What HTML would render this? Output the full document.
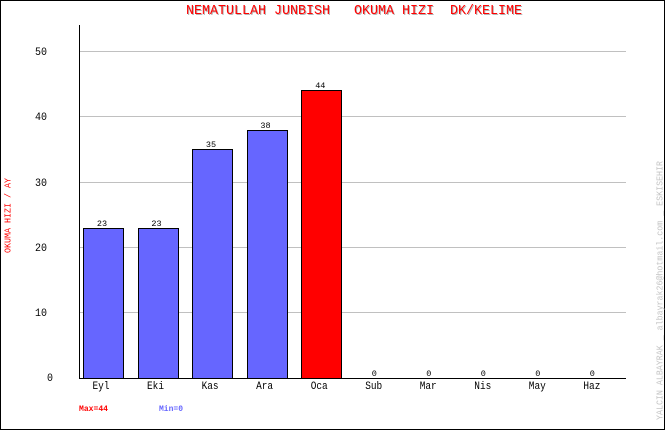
<!DOCTYPE html>
<html>
<head>
<meta charset="utf-8">
<style>
html,body{margin:0;padding:0;background:#fff;}
svg{display:block;}
text{font-family:"Liberation Mono","DejaVu Sans Mono",monospace;}
</style>
</head>
<body>
<svg width="665" height="430" viewBox="0 0 665 430" xmlns="http://www.w3.org/2000/svg">
  <rect x="0.5" y="0.5" width="664" height="429" fill="#fff" stroke="#000" stroke-width="1" shape-rendering="crispEdges"/>

  <!-- title -->
  <text x="187" y="15" font-size="14" fill="#b4b4b4" xml:space="preserve" textLength="336" lengthAdjust="spacingAndGlyphs">NEMATULLAH JUNBISH   OKUMA HIZI  DK/KELIME</text>
  <text x="186" y="14" font-size="14" fill="#ff0000" xml:space="preserve" textLength="336" lengthAdjust="spacingAndGlyphs">NEMATULLAH JUNBISH   OKUMA HIZI  DK/KELIME</text>

  <!-- gridlines -->
  <g stroke="#c0c0c0" stroke-width="1" shape-rendering="crispEdges">
    <line x1="80" y1="51.5" x2="626" y2="51.5"/>
    <line x1="80" y1="116.5" x2="626" y2="116.5"/>
    <line x1="80" y1="182.5" x2="626" y2="182.5"/>
    <line x1="80" y1="247.5" x2="626" y2="247.5"/>
    <line x1="80" y1="312.5" x2="626" y2="312.5"/>
  </g>

  <!-- bars -->
  <g stroke="#000" stroke-width="1" shape-rendering="crispEdges">
    <rect x="83.5" y="228.5" width="40" height="150" fill="#6666ff"/>
    <rect x="138.5" y="228.5" width="40" height="150" fill="#6666ff"/>
    <rect x="192.5" y="149.5" width="40" height="229" fill="#6666ff"/>
    <rect x="247.5" y="130.5" width="40" height="248" fill="#6666ff"/>
    <rect x="301.5" y="90.5" width="40" height="288" fill="#ff0000"/>
  </g>

  <!-- axes -->
  <g stroke="#000" stroke-width="1" shape-rendering="crispEdges">
    <line x1="79.5" y1="25" x2="79.5" y2="379"/>
    <line x1="79" y1="378.5" x2="626" y2="378.5"/>
  </g>

  <!-- y tick labels -->
  <g font-size="11" fill="#000">
    <text x="35" y="55" textLength="12" lengthAdjust="spacingAndGlyphs">50</text>
    <text x="35" y="120" textLength="12" lengthAdjust="spacingAndGlyphs">40</text>
    <text x="35" y="186" textLength="12" lengthAdjust="spacingAndGlyphs">30</text>
    <text x="35" y="251" textLength="12" lengthAdjust="spacingAndGlyphs">20</text>
    <text x="35" y="316" textLength="12" lengthAdjust="spacingAndGlyphs">10</text>
    <text x="47" y="381" textLength="6" lengthAdjust="spacingAndGlyphs">0</text>
  </g>

  <!-- value labels -->
  <g font-size="8.5" fill="#000" text-anchor="middle">
    <text x="102" y="226">23</text>
    <text x="156.5" y="226">23</text>
    <text x="211" y="147">35</text>
    <text x="265.5" y="128">38</text>
    <text x="320.3" y="88">44</text>
    <text x="374.3" y="376">0</text>
    <text x="428.8" y="376">0</text>
    <text x="483.3" y="376">0</text>
    <text x="537.8" y="376">0</text>
    <text x="592.3" y="376">0</text>
  </g>

  <!-- x labels -->
  <g font-size="11" fill="#000" text-anchor="middle">
    <text x="101" y="389" textLength="17" lengthAdjust="spacingAndGlyphs">Eyl</text>
    <text x="155.5" y="389" textLength="17" lengthAdjust="spacingAndGlyphs">Eki</text>
    <text x="210.1" y="389" textLength="17" lengthAdjust="spacingAndGlyphs">Kas</text>
    <text x="264.6" y="389" textLength="17" lengthAdjust="spacingAndGlyphs">Ara</text>
    <text x="319.2" y="389" textLength="17" lengthAdjust="spacingAndGlyphs">Oca</text>
    <text x="373.7" y="389" textLength="17" lengthAdjust="spacingAndGlyphs">Sub</text>
    <text x="428.2" y="389" textLength="17" lengthAdjust="spacingAndGlyphs">Mar</text>
    <text x="482.8" y="389" textLength="17" lengthAdjust="spacingAndGlyphs">Nis</text>
    <text x="537.3" y="389" textLength="17" lengthAdjust="spacingAndGlyphs">May</text>
    <text x="591.9" y="389" textLength="17" lengthAdjust="spacingAndGlyphs">Haz</text>
  </g>

  <!-- max / min -->
  <text x="79" y="411" font-size="8.5" font-weight="bold" fill="#ff0000" textLength="29" lengthAdjust="spacingAndGlyphs">Max=44</text>
  <text x="159" y="411" font-size="8.5" font-weight="bold" fill="#6666ff" textLength="24" lengthAdjust="spacingAndGlyphs">Min=0</text>

  <!-- y axis title -->
  <text transform="translate(10.5,253) rotate(-90)" font-size="9" fill="#ff0000" textLength="75" lengthAdjust="spacingAndGlyphs">OKUMA HIZI / AY</text>

  <!-- right credit -->
  <text transform="translate(662.5,420) rotate(-90)" font-size="9" fill="#c4c4c4" textLength="259" lengthAdjust="spacingAndGlyphs" xml:space="preserve">YALCIN ALBAYRAK _ albayrak26@hotmail.com _ ESKISEHIR</text>
</svg>
</body>
</html>
